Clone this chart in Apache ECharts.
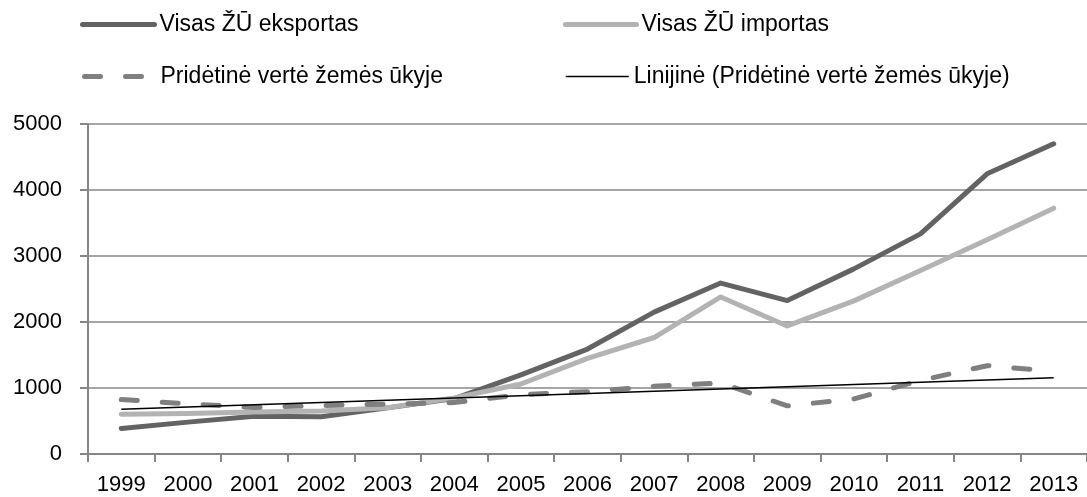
<!DOCTYPE html>
<html>
<head>
<meta charset="utf-8">
<title>ŽŪ eksportas ir importas</title>
<script src="https://cdn.jsdelivr.net/npm/echarts@6/dist/echarts.min.js"></script>
<style>
  html, body { margin: 0; padding: 0; background: #fff; }
  #chart { width: 1087px; height: 497px; }
</style>
</head>
<body>
<div id="chart"></div>
<script>
// metai
var years = ["1999", "2000", "2001", "2002", "2003", "2004", "2005", "2006",
  "2007", "2008", "2009", "2010", "2011", "2012", "2013"];

// reikšmės nuskaitytos nuo paveikslo
var eksportas = [387, 483, 573, 563, 699, 840, 1200, 1590, 2150, 2590, 2325, 2805, 3335, 4245, 4700];
var importas = [603, 613, 638, 653, 700, 850, 1060, 1450, 1765, 2380, 1940, 2320, 2780, 3245, 3725];
var pridetine = [825, 760, 705, 735, 755, 780, 900, 945, 1025, 1075, 730, 835, 1115, 1338, 1252];

var yTicks = [0, 1000, 2000, 3000, 4000, 5000];

var names = [
  "Visas ŽŪ eksportas",
  "Visas ŽŪ importas",
  "Pridėtinė vertė žemės ūkyje",
  "Linijinė (Pridėtinė vertė žemės ūkyje)"
];

// tiesinė tendencija (mažiausių kvadratų) iš pridėtinės vertės
function trendLine(vals) {
  var n = vals.length, sx = 0, sy = 0, sxy = 0, sxx = 0;
  for (var i = 0; i < n; i++) {
    sx += i; sy += vals[i]; sxy += i * vals[i]; sxx += i * i;
  }
  var b = (n * sxy - sx * sy) / (n * sxx - sx * sx);
  var a = (sy - b * sx) / n;
  return vals.map(function (v, i) { return +(a + b * i).toFixed(1); });
}

var font = "'Liberation Sans', Arial, sans-serif";
var axisGray = "#868686";
var axisFs = 22;
var legendFs = 23;
var dash = [16, 25];

var chart = echarts.init(document.getElementById("chart"));

function legendAt(name, left, top, width, line, extraPad) {
  return {
    data: [name],
    left: left,
    top: top,
    padding: 0,
    itemWidth: width,
    itemHeight: 14,
    selectedMode: false,
    itemStyle: { opacity: 0 },
    lineStyle: line,
    textStyle: {
      fontFamily: font,
      fontSize: legendFs,
      color: "#000",
      padding: [0, 0, 0, extraPad || 0]
    }
  };
}

chart.setOption({
  animation: false,
  textStyle: { fontFamily: font },
  legend: [
    legendAt(names[0], 80, 13, 72, { width: 5, cap: "round" }),
    legendAt(names[1], 563, 13, 71, { width: 5, cap: "round" }),
    legendAt(names[2], 82, 65, 62, { width: 5, type: dash, cap: "round" }, 9),
    legendAt(names[3], 565, 65, 63, { width: 1.5 })
  ],
  grid: {
    left: 88,
    right: 0,
    top: 124,
    bottom: 43
  },
  xAxis: {
    type: "category",
    data: years,
    boundaryGap: true,
    axisLine: {
      show: true,
      lineStyle: { color: axisGray, width: 2 }
    },
    axisTick: {
      show: true,
      length: 8,
      lineStyle: { color: axisGray, width: 2 }
    },
    axisLabel: {
      margin: 20,
      fontSize: axisFs,
      color: "#000",
      interval: 0
    }
  },
  yAxis: {
    type: "value",
    min: yTicks[0],
    max: yTicks[yTicks.length - 1],
    interval: 1000,
    axisLine: {
      show: true,
      lineStyle: { color: axisGray, width: 2 }
    },
    axisTick: {
      show: true,
      length: 8,
      lineStyle: { color: axisGray, width: 2 }
    },
    axisLabel: {
      margin: 26,
      fontSize: axisFs,
      color: "#000",
      formatter: function (v) { return String(v); }
    },
    splitLine: {
      show: true,
      lineStyle: { color: "#a6a6a6", width: 2 }
    }
  },
  series: [
    {
      name: names[0],
      type: "line",
      data: eksportas,
      symbol: "none",
      lineStyle: { color: "#636363", width: 5, cap: "round", join: "round" },
      itemStyle: { color: "#636363" }
    },
    {
      name: names[1],
      type: "line",
      data: importas,
      symbol: "none",
      lineStyle: { color: "#b3b3b3", width: 5, cap: "round", join: "round" },
      itemStyle: { color: "#b3b3b3" }
    },
    {
      name: names[2],
      type: "line",
      data: pridetine,
      symbol: "none",
      lineStyle: { color: "#7f7f7f", width: 5, type: dash, cap: "round", join: "round" },
      itemStyle: { color: "#7f7f7f" }
    },
    {
      name: names[3],
      type: "line",
      data: trendLine(pridetine),
      symbol: "none",
      lineStyle: { color: "#000", width: 1.5 },
      itemStyle: { color: "#000" }
    }
  ]
});
window.onresize = function () { chart.resize(); };
</script>
</body>
</html>
